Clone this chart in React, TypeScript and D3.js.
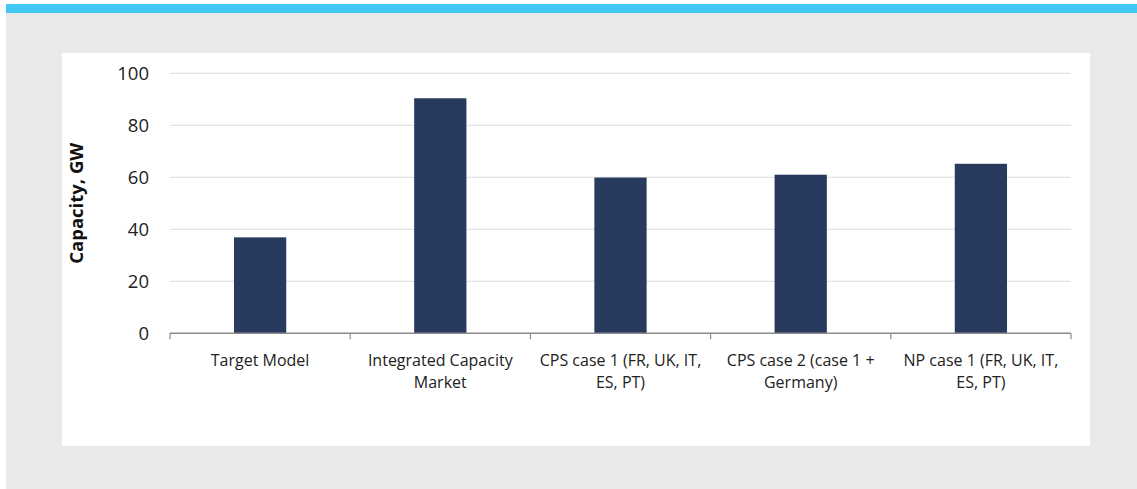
import React, { useRef, useEffect } from 'react';
import * as d3 from 'd3';

// Category labels, already broken into lines as in the source chart
const categories = [
  ['Target Model'],
  ['Integrated Capacity', 'Market'],
  ['CPS case 1 (FR, UK, IT,', 'ES, PT)'],
  ['CPS case 2 (case 1 +', 'Germany)'],
  ['NP case 1 (FR, UK, IT,', 'ES, PT)'],
];
const capacity = [36.9, 90.4, 59.9, 61.0, 65.2];
const yTicks = [0, 20, 40, 60, 80, 100];

const App: React.FC = () => {
  const svgRef = useRef<SVGSVGElement>(null);

  useEffect(() => {
    if (!svgRef.current) return;
    const width = 1137;
    const height = 489;
    const svg = d3.select(svgRef.current);
    svg.selectAll('*').remove();

    const font = "'Open Sans', sans-serif";

    // page frame: grey background with cyan top band and white chart panel
    svg.append('rect').attr('x', 6).attr('y', 13).attr('width', width - 6).attr('height', height - 13).attr('fill', '#e9e9e9');
    svg.append('rect').attr('x', 6).attr('y', 4).attr('width', width - 6).attr('height', 9).attr('fill', '#42c8f4');
    svg.append('rect').attr('x', 62).attr('y', 53).attr('width', 1028).attr('height', 393).attr('fill', '#ffffff');

    const margin = { top: 73.3, left: 170, right: 1071, bottom: 333.3 };

    const x = d3.scaleBand<number>()
      .domain(categories.map((_, i) => i))
      .range([margin.left, margin.right])
      .paddingInner(0.71)
      .paddingOuter(0.355);

    const xOuter = d3.scaleBand<number>()
      .domain(categories.map((_, i) => i))
      .range([margin.left, margin.right]);

    const y = d3.scaleLinear().domain([0, 100]).range([margin.bottom, margin.top]);

    // gridlines
    svg.append('g')
      .selectAll('line')
      .data(yTicks.filter(t => t > 0))
      .join('line')
      .attr('x1', margin.left)
      .attr('x2', margin.right)
      .attr('y1', d => y(d))
      .attr('y2', d => y(d))
      .attr('stroke', '#e3e3e3')
      .attr('stroke-width', 1.3);

    // y tick labels
    svg.append('g')
      .selectAll('text')
      .data(yTicks)
      .join('text')
      .attr('x', 149)
      .attr('y', d => y(d))
      .attr('dy', '0.35em')
      .attr('text-anchor', 'end')
      .attr('font-family', font)
      .attr('font-size', '18.5px')
      .attr('fill', '#222')
      .text(d => d);

    // bars
    svg.append('g')
      .selectAll('rect')
      .data(capacity)
      .join('rect')
      .attr('x', (_, i) => x(i) as number)
      .attr('width', x.bandwidth())
      .attr('y', d => y(d))
      .attr('height', d => y(0) - y(d))
      .attr('fill', '#283a5e');

    // x axis line and ticks
    svg.append('line')
      .attr('x1', margin.left)
      .attr('x2', margin.right)
      .attr('y1', y(0))
      .attr('y2', y(0))
      .attr('stroke', '#8c8c8c')
      .attr('stroke-width', 1.5);

    const tickPos = categories.map((_, i) => xOuter(i) as number).concat([margin.right]);
    svg.append('g')
      .selectAll('line')
      .data(tickPos)
      .join('line')
      .attr('x1', d => d)
      .attr('x2', d => d)
      .attr('y1', y(0))
      .attr('y2', y(0) + 6)
      .attr('stroke', '#8c8c8c')
      .attr('stroke-width', 1.2);

    // category labels, one text per line
    categories.forEach((lines, i) => {
      const cx = (xOuter(i) as number) + xOuter.bandwidth() / 2;
      lines.forEach((ln, j) => {
        svg.append('text')
          .attr('x', cx)
          .attr('y', 365.5 + j * 22)
          .attr('text-anchor', 'middle')
          .attr('font-family', font)
          .attr('font-size', '16px')
          .attr('fill', '#222')
          .text(ln);
      });
    });

    // y axis title
    svg.append('text')
      .attr('transform', `translate(83,${(margin.top + margin.bottom) / 2}) rotate(-90)`)
      .attr('text-anchor', 'middle')
      .attr('font-family', font)
      .attr('font-size', '18.5px')
      .attr('font-weight', 'bold')
      .attr('fill', '#111')
      .text('Capacity, GW');
  }, []);

  return (
    <svg
      ref={svgRef}
      width={1137}
      height={489}
      style={{ position: 'absolute', left: 0, top: 0, display: 'block' }}
    />
  );
};

export default App;
